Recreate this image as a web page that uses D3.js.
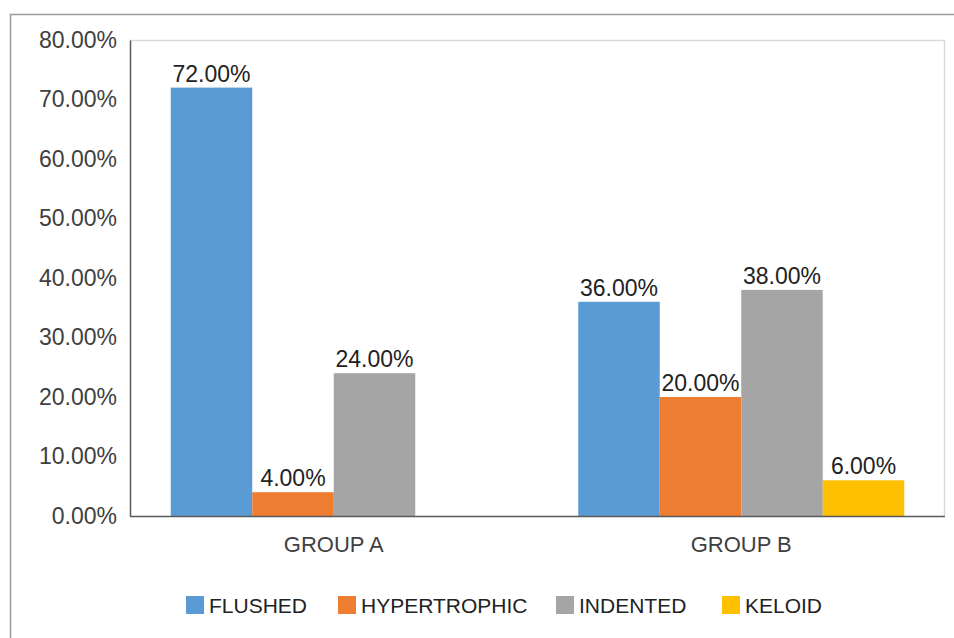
<!DOCTYPE html>
<html>
<head>
<meta charset="utf-8">
<script src="https://cdn.jsdelivr.net/npm/d3@7"></script>
<style>
  html, body { margin: 0; padding: 0; background: #fff; }
  svg { display: block; font-family: "Liberation Sans", Arial, sans-serif; }
</style>
</head>
<body>
<svg id="chart" width="954" height="638"></svg>
<script>
// Scar appearance by group (share of patients)
const groups = ["GROUP A", "GROUP B"];
const seriesNames = ["FLUSHED", "HYPERTROPHIC", "INDENTED", "KELOID"];
const flushed = [0.72, 0.36];
const hypertrophic = [0.04, 0.20];
const indented = [0.24, 0.38];
const keloid = [0.00, 0.06];
const yTicks = [0, 0.1, 0.2, 0.3, 0.4, 0.5, 0.6, 0.7, 0.8];
const colors = ["#5B9BD5", "#ED7D31", "#A5A5A5", "#FFC000"];

const seriesValues = [flushed, hypertrophic, indented, keloid];

const svg = d3.select("#chart");
const W = 954, H = 638;
const plot = { left: 130, right: 945, top: 40, bottom: 516 };

// outer chart frame (top and left edges visible)
svg.append("path")
  .attr("d", `M10.5,${H} L10.5,14.5 L${W},14.5`)
  .attr("fill", "none")
  .attr("stroke", "#9a9a9a")
  .attr("stroke-width", 1.5);

const x0 = d3.scaleBand().domain(groups)
  .range([plot.left, plot.right])
  .paddingInner(0.2).paddingOuter(0.1);
const x1 = d3.scaleBand().domain(seriesNames)
  .range([0, x0.bandwidth()]);
const y = d3.scaleLinear().domain([0, 0.8]).range([plot.bottom, plot.top]);

// plot area border: light top/right
svg.append("path")
  .attr("d", `M${plot.left},${plot.top + 0.5} L${plot.right - 0.5},${plot.top + 0.5} L${plot.right - 0.5},${plot.bottom}`)
  .attr("fill", "none")
  .attr("stroke", "#d9d9d9")
  .attr("stroke-width", 1.5);

const pct = d3.format(".2%");

// bars
const rows = [];
groups.forEach((g, gi) => {
  seriesNames.forEach((s, si) => {
    rows.push({ group: g, series: s, value: seriesValues[si][gi], color: colors[si] });
  });
});

svg.append("g").selectAll("rect")
  .data(rows.filter(d => d.value > 0))
  .join("rect")
  .attr("x", d => x0(d.group) + x1(d.series))
  .attr("y", d => y(d.value))
  .attr("width", x1.bandwidth())
  .attr("height", d => y(0) - y(d.value))
  .attr("fill", d => d.color);

// value labels
svg.append("g").selectAll("text")
  .data(rows.filter(d => d.value > 0))
  .join("text")
  .attr("x", d => x0(d.group) + x1(d.series) + x1.bandwidth() / 2)
  .attr("y", d => y(d.value) - 6)
  .attr("text-anchor", "middle")
  .attr("font-size", 23)
  .attr("fill", "#222")
  .text(d => pct(d.value));

// y axis
const yAxis = svg.append("g")
  .attr("transform", `translate(${plot.left},0)`)
  .call(d3.axisLeft(y).tickValues(yTicks).tickFormat(pct).tickSize(0).tickPadding(13));
yAxis.select(".domain").attr("stroke", "#595959").attr("stroke-width", 1.5);
yAxis.selectAll("text").attr("font-size", 23).attr("fill", "#404040")
  .attr("font-family", "Liberation Sans, Arial, sans-serif");

// x axis
const xAxis = svg.append("g")
  .attr("transform", `translate(0,${plot.bottom})`)
  .call(d3.axisBottom(x0).tickSize(0).tickPadding(20));
xAxis.select(".domain").attr("stroke", "#595959").attr("stroke-width", 1.5)
  .attr("d", `M${plot.left},0.5H${plot.right}`);
xAxis.selectAll("text").attr("font-size", 22).attr("fill", "#404040")
  .attr("font-family", "Liberation Sans, Arial, sans-serif");

// legend
const legendX = [186, 338, 556, 722];
const legend = svg.append("g").selectAll("g")
  .data(seriesNames)
  .join("g")
  .attr("transform", (d, i) => `translate(${legendX[i]},596)`);
legend.append("rect")
  .attr("width", 18).attr("height", 18)
  .attr("fill", (d, i) => colors[i]);
legend.append("text")
  .attr("x", 23).attr("y", 17)
  .attr("font-size", 21)
  .attr("fill", "#222")
  .text(d => d);
</script>
</body>
</html>
